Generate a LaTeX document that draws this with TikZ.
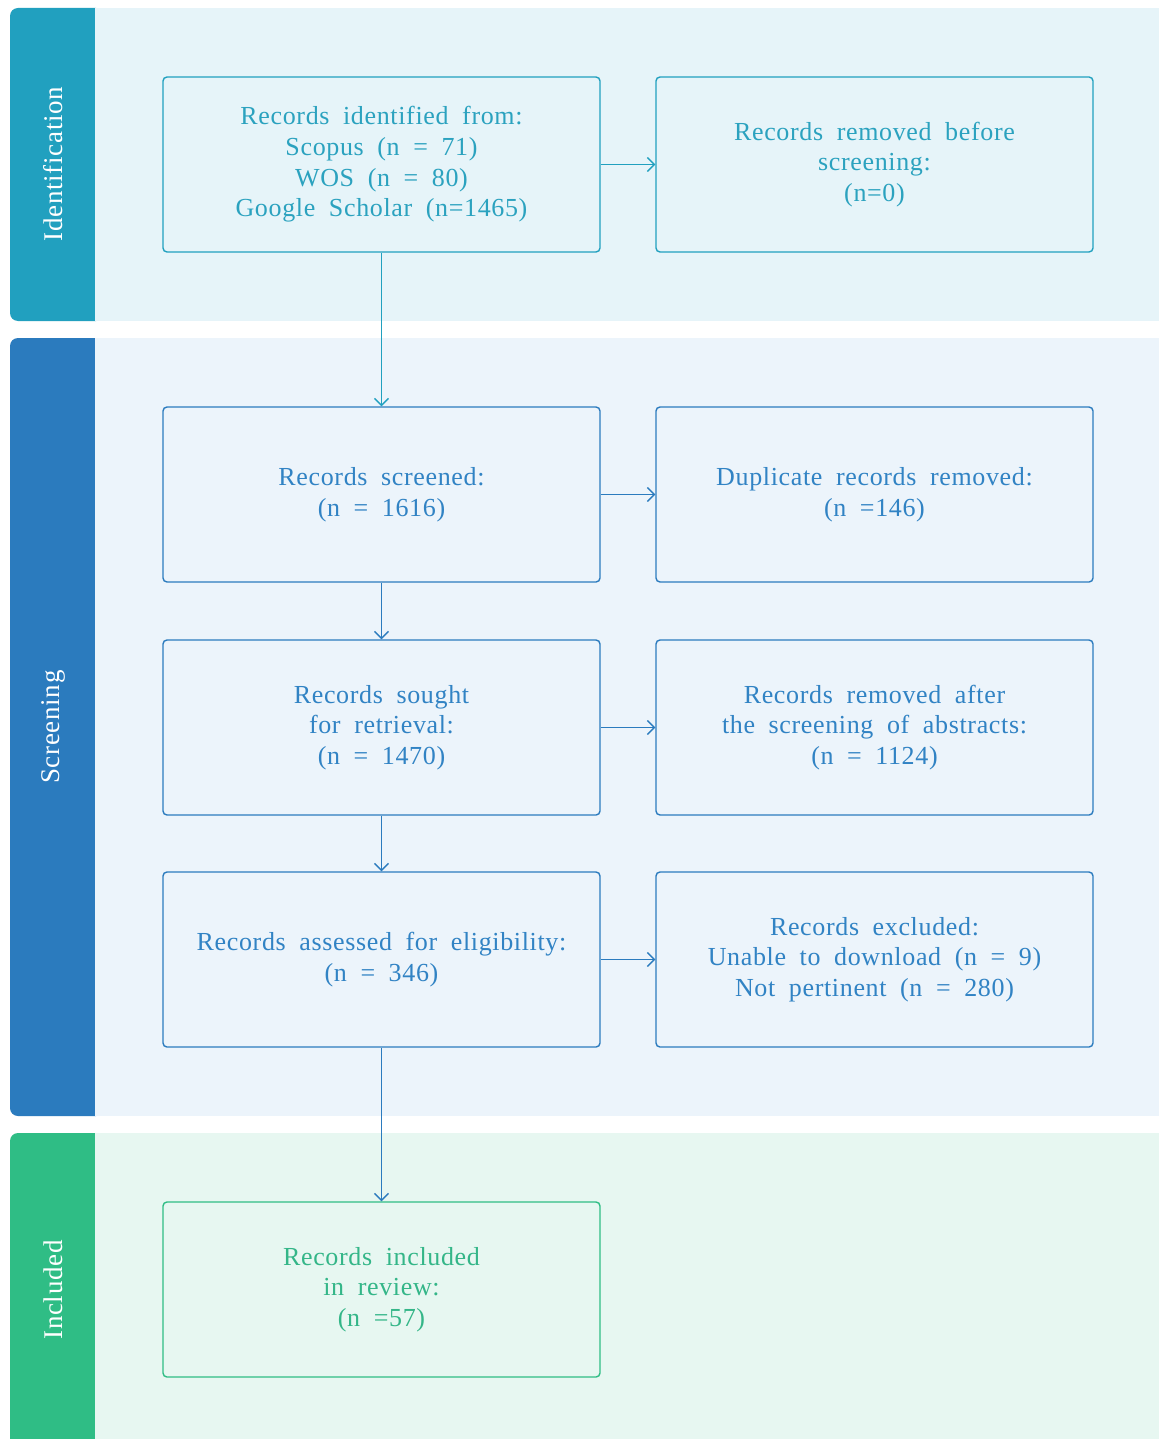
\documentclass[tikz,border=0pt]{standalone}
\usepackage{fontspec}
\setmainfont{Liberation Serif}[LetterSpace=2.5, WordSpace=1.9]
\usetikzlibrary{arrows.meta}
\definecolor{idStrip}{HTML}{21A0BF}
\definecolor{idBack}{HTML}{E6F4F9}
\definecolor{idText}{HTML}{2BA2BF}
\definecolor{scStrip}{HTML}{2B7BBE}
\definecolor{scBack}{HTML}{ECF4FB}
\definecolor{scText}{HTML}{3183C4}
\definecolor{inStrip}{HTML}{2FBD85}
\definecolor{inBack}{HTML}{E7F7F1}
\definecolor{inText}{HTML}{34B688}
\tikzset{
  x=1pt, y=-1pt,
  flowbox/.style={draw, line width=1.4pt, rounded corners=4pt, minimum width=437pt,
    minimum height=175pt, align=center, inner sep=0pt,
    font=\fontsize{26}{30.7}\selectfont},
  idbox/.style={flowbox, draw=idStrip, fill=idBack, text=idText},
  scbox/.style={flowbox, draw=scStrip, fill=scBack, text=scText},
  inbox/.style={flowbox, draw=inStrip, fill=inBack, text=inText},
  flowarrow/.style={line width=1.3pt, -{Straight Barb[length=7pt,width=14pt]}},
  bandlabel/.style={rotate=90, text=white, font=\fontsize{27}{30}\selectfont}
}
\begin{document}
\begin{tikzpicture}
\useasboundingbox (0,0) rectangle (1159,1439);
\fill[white] (0,0) rectangle (1159,1439);

% phase bands: coloured strip with rounded left corners, tinted panel to the right
\fill[idStrip] (96,8) -- (18,8) arc[start angle=90, end angle=180, radius=8pt]
  -- (10,313) arc[start angle=180, end angle=270, radius=8pt] -- (96,321) -- cycle;
\fill[idBack] (95,8) rectangle (1159,321);
\fill[scStrip] (96,338) -- (18,338) arc[start angle=90, end angle=180, radius=8pt]
  -- (10,1108) arc[start angle=180, end angle=270, radius=8pt] -- (96,1116) -- cycle;
\fill[scBack] (95,338) rectangle (1159,1116);
\fill[inStrip] (96,1133) -- (18,1133) arc[start angle=90, end angle=180, radius=8pt]
  -- (10,1460) -- (96,1460) -- cycle;
\fill[inBack] (95,1133) rectangle (1159,1460);

\node[bandlabel] (lblId) at (53,164) {Identification};
\node[bandlabel] (lblSc) at (53,727) {Screening};
\node[bandlabel] (lblIn) at (53,1290) {Included};

% flow boxes
\node[idbox] (ident) at (381.5,164.5) {Records identified from:\\Scopus (n = 71)\\WOS (n = 80)\\Google Scholar (n=1465)};
\node[idbox] (prerem) at (874.5,164.5) {Records removed before\\screening:\\(n=0)};
\node[scbox] (screened) at (381.5,494.5) {Records screened:\\(n = 1616)};
\node[scbox] (dupl) at (874.5,494.5) {Duplicate records removed:\\(n =146)};
\node[scbox] (sought) at (381.5,727.5) {Records sought\\for retrieval:\\(n = 1470)};
\node[scbox] (abstr) at (874.5,727.5) {Records removed after\\the screening of abstracts:\\(n = 1124)};
\node[scbox] (elig) at (381.5,959.5) {Records assessed for eligibility:\\(n = 346)};
\node[scbox] (excl) at (874.5,959.5) {Records excluded:\\Unable to download (n = 9)\\Not pertinent (n = 280)};
\node[inbox] (incl) at (381.5,1289.5) {Records included\\in review:\\(n =57)};

% connectors
\draw[flowarrow, idStrip] (ident) -- (prerem);
\draw[flowarrow, idStrip] (ident) -- (screened);
\draw[flowarrow, scStrip] (screened) -- (dupl);
\draw[flowarrow, scStrip] (screened) -- (sought);
\draw[flowarrow, scStrip] (sought) -- (abstr);
\draw[flowarrow, scStrip] (sought) -- (elig);
\draw[flowarrow, scStrip] (elig) -- (excl);
\draw[flowarrow, scStrip] (elig) -- (incl);
\end{tikzpicture}
\end{document}
